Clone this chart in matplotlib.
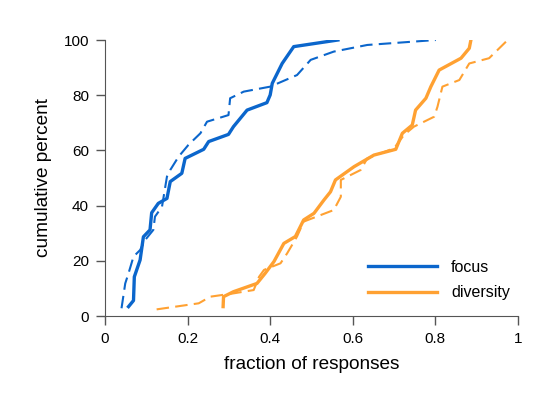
import matplotlib
matplotlib.use("Agg")
import matplotlib.pyplot as plt

plt.rcParams['font.family'] = ['Liberation Sans', 'DejaVu Sans']

# focus, solid
focus_x = [0.057, 0.069, 0.071, 0.085, 0.093, 0.109, 0.113, 0.129, 0.150, 0.158,
           0.186, 0.194, 0.239, 0.251, 0.299, 0.311, 0.344, 0.392, 0.400, 0.405,
           0.429, 0.457, 0.564]
focus_y = [3.4, 5.6, 14.2, 20.3, 28.7, 31.2, 37.4, 40.8, 42.6, 48.7,
           51.7, 57.1, 60.4, 63.2, 65.8, 68.6, 74.6, 77.3, 80.1, 84.3,
           91.5, 97.6, 100]

# focus, dashed
focus2_x = [0.040, 0.049, 0.057, 0.069, 0.085, 0.097, 0.117, 0.121, 0.138, 0.150,
            0.158, 0.178, 0.202, 0.231, 0.247, 0.299, 0.303, 0.336, 0.400, 0.465,
            0.498, 0.554, 0.635, 0.801]
focus2_y = [2.8, 11.8, 15.5, 21.5, 23.9, 27.5, 31.2, 36.0, 39.6, 50.5,
            52.9, 57.7, 62.0, 66.2, 70.4, 72.8, 78.9, 81.3, 83.1, 87.3,
            92.8, 95.8, 98.2, 100]

# diversity, solid
div_x = [0.286, 0.287, 0.311, 0.368, 0.388, 0.409, 0.433, 0.461, 0.481, 0.506,
         0.530, 0.546, 0.558, 0.603, 0.651, 0.704, 0.720, 0.744, 0.752, 0.777,
         0.789, 0.809, 0.862, 0.882, 0.886]
div_y = [3.4, 7.0, 8.8, 11.8, 15.5, 19.7, 26.3, 28.8, 34.8, 37.2,
         42.0, 45.0, 49.3, 54.1, 58.3, 60.4, 66.2, 69.2, 74.6, 78.9,
         83.1, 89.1, 93.4, 97.0, 100]

# diversity, dashed
div2_x = [0.125, 0.227, 0.255, 0.311, 0.360, 0.373, 0.385, 0.425, 0.441, 0.465,
          0.481, 0.554, 0.571, 0.571, 0.619, 0.635, 0.700, 0.724, 0.748, 0.797,
          0.805, 0.817, 0.858, 0.882, 0.930, 0.975]
div2_y = [2.4, 4.6, 7.0, 8.2, 9.4, 14.2, 16.7, 19.1, 22.7, 28.8,
          34.2, 38.4, 43.2, 49.3, 52.9, 57.1, 60.8, 65.6, 68.6, 72.2,
          75.8, 83.1, 85.5, 91.5, 93.4, 100]

blue = '#0b66cc'
orange = '#ffa132'

fig = plt.figure(figsize=(5.56, 3.98), dpi=100)
ax = fig.add_axes([105 / 556, 1 - 316 / 398, 413 / 556, 276 / 398])

ax.plot(focus_x, focus_y, color=blue, lw=2.4, label='focus')
ax.plot(div_x, div_y, color=orange, lw=2.4, label='diversity')
ax.plot(focus2_x, focus2_y, color=blue, lw=1.5, dashes=(6, 3))
ax.plot(div2_x, div2_y, color=orange, lw=1.5, dashes=(6, 3))

ax.set_xlim(0, 1)
ax.set_ylim(0, 100)
ax.set_xticks([0, 0.2, 0.4, 0.6, 0.8, 1])
ax.set_xticklabels(['0', '0.2', '0.4', '0.6', '0.8', '1'])
ax.set_yticks([0, 20, 40, 60, 80, 100])

for s in ['top', 'right']:
    ax.spines[s].set_visible(False)
for s in ['left', 'bottom']:
    ax.spines[s].set_color('#555555')
ax.tick_params(direction='out', length=6.5, width=1, color='#555555',
               labelsize=11, pad=5)

ax.set_xlabel('fraction of responses', fontsize=13.7, labelpad=7)
ax.set_ylabel('cumulative percent', fontsize=13.7, labelpad=8)

ax.legend(loc='lower right', frameon=False, fontsize=11.5, handlelength=4.3,
          handletextpad=0.9, labelspacing=0.65, bbox_to_anchor=(1.015, 0.005))

fig.savefig('out.png', dpi=100)
